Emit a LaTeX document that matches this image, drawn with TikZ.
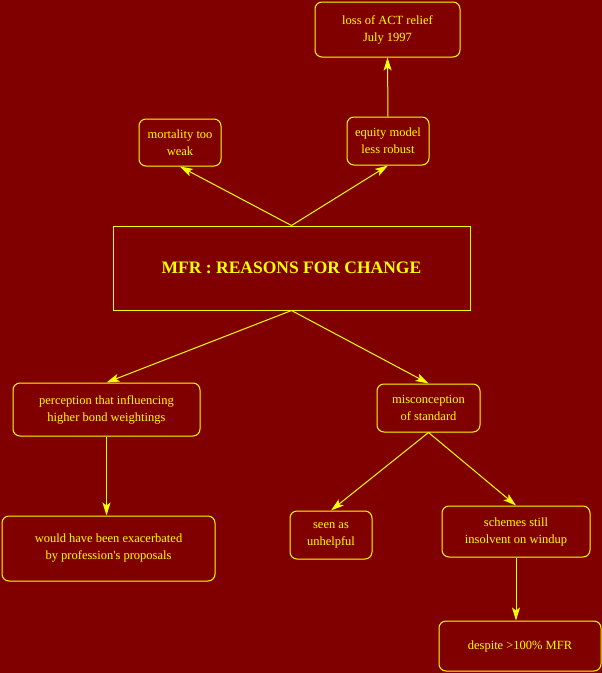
\documentclass[tikz,border=0pt]{standalone}
\usepackage{fontspec}
\setmainfont{Liberation Serif}
\usetikzlibrary{arrows.meta}
\definecolor{bgred}{HTML}{800000}
\definecolor{ylw}{HTML}{FFFF00}
\begin{document}
\begin{tikzpicture}[x=1pt,y=-1pt,line width=1pt,
    box/.style={draw=ylw,rounded corners=7pt,align=center,text=ylw,
      font=\fontsize{12.5}{17}\selectfont,inner sep=0pt},
    edge/.style={draw=ylw,-{Stealth[length=13pt,width=8pt,inset=3pt]}}]
  % Background
  \fill[bgred] (0,0) rectangle (602,673);
  \useasboundingbox (0,0) rectangle (602,673);

  % Title box
  \node[draw=ylw,text=ylw,minimum width=357pt,minimum height=84pt,inner sep=0pt,
    font=\fontsize{17.5}{20}\selectfont\bfseries] (mfr) at (291.5,268) {MFR : REASONS FOR CHANGE};

  % Upper boxes
  \node[box,minimum width=145pt,minimum height=55pt] (act) at (387.5,29.5) {loss of ACT relief\\July 1997};
  \node[box,minimum width=82pt,minimum height=47pt] (mort) at (180,142.5) {mortality too\\weak};
  \node[box,minimum width=82pt,minimum height=48pt] (equity) at (388,141) {equity model\\less robust};

  % Lower boxes
  \node[box,minimum width=187pt,minimum height=53pt] (perc) at (106.5,409.5) {perception that influencing\\higher bond weightings};
  \node[box,minimum width=103pt,minimum height=48pt] (misc) at (428.5,408) {misconception\\of standard};
  \node[box,minimum width=213pt,minimum height=65pt] (exac) at (108.5,548.5) {would have been exacerbated\\by profession\textquotesingle s proposals};
  \node[box,minimum width=82pt,minimum height=48pt] (seen) at (331,535) {seen as\\unhelpful};
  \node[box,minimum width=148pt,minimum height=51pt] (schemes) at (516,531.5) {schemes still\\insolvent on windup};
  \node[box,minimum width=162pt,minimum height=50pt] (despite) at (520,646) {despite >100\% MFR};

  % Connectors
  \draw[edge] (mfr.north) -- (mort.south);
  \draw[edge] (mfr.north) -- (equity.south);
  \draw[edge] (equity.north) -- (act.south);
  \draw[edge] (mfr.south) -- (perc.north);
  \draw[edge] (mfr.south) -- (misc.north);
  \draw[edge] (perc.south) -- (exac.north -| perc.south);
  \draw[edge] (misc.south) -- (seen.north);
  \draw[edge] (misc.south) -- (schemes.north);
  \draw[edge] (schemes.south) -- (despite.north -| schemes.south);
\end{tikzpicture}
\end{document}
